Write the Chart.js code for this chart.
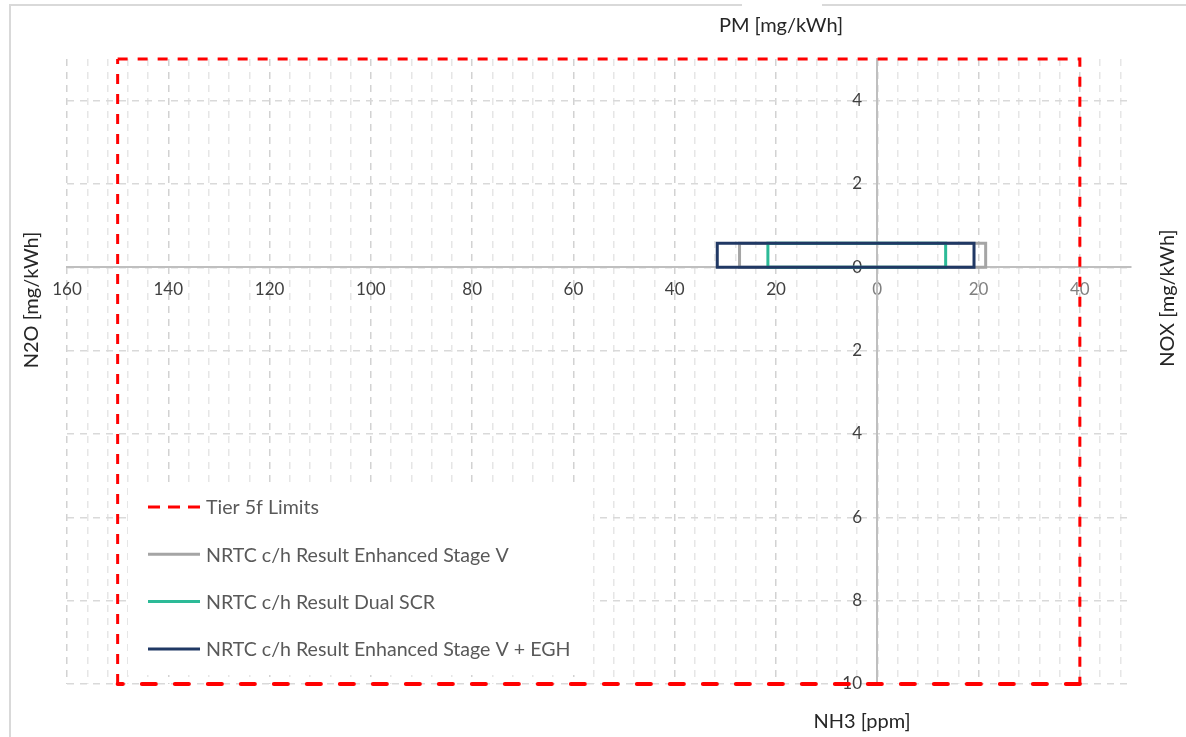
<!DOCTYPE html>
<html>
<head>
<meta charset="utf-8">
<title>Emissions vs Tier 5f limits</title>
<script src="https://cdn.jsdelivr.net/npm/chart.js@4/dist/chart.umd.min.js"></script>
<style>
  html, body { margin: 0; padding: 0; background: #fff; }
  #wrap { position: relative; width: 1186px; height: 737px; }
  canvas { display: block; }
</style>
</head>
<body>
<div id="wrap"><canvas id="c" width="1186" height="737"></canvas></div>
<script>
// Four-quadrant emissions chart:
//   left  = N2O [mg/kWh], right = NOX [mg/kWh]
//   up    = PM  [mg/kWh], down  = NH3 [ppm]
// Every series is a rectangle spanning its four values.
const seriesNames = [
  'Tier 5f Limits',
  'NRTC c/h Result Enhanced Stage V',
  'NRTC c/h Result Dual SCR',
  'NRTC c/h Result Enhanced Stage V + EGH'
];
const n2oValues = [150, 27.2, 21.6, 31.6];
const pmValues  = [5, 0.58, 0.58, 0.58];
const noxValues = [40, 21.4, 13.5, 19.1];
const nh3Values = [10, 0, 0, 0];

// axis ranges (N2O and NH3 run in the negative direction)
const xRange = [-160, 50];
const yRange = [-10, 5];
const xTickStep = 4;     // grid every 4, labels every 20
const xLabelEvery = 20;
const yTickStep = 2;

const seriesColors = ['#FF0000', '#A5A5A5', '#2CBA97', '#203864'];
const drawOrder = [0, 3, 2, 1];

function rectPoints(i) {
  return [
    { x: -n2oValues[i], y: pmValues[i] },
    { x: noxValues[i], y: pmValues[i] },
    { x: noxValues[i], y: -nh3Values[i] },
    { x: -n2oValues[i], y: -nh3Values[i] },
    { x: -n2oValues[i], y: pmValues[i] }
  ];
}

const datasets = seriesNames.map((name, i) => {
  const ds = {
    label: name,
    data: rectPoints(i),
    showLine: true,
    borderColor: seriesColors[i],
    backgroundColor: seriesColors[i],
    borderWidth: 3,
    pointRadius: 0,
    pointHoverRadius: 0,
    tension: 0,
    fill: false,
    clip: false,
    order: drawOrder[i],
    borderJoinStyle: 'miter',
    borderCapStyle: 'square'
  };
  if (i === 0) {
    ds.borderDash = [10, 10];
    ds.borderCapStyle = 'butt';
    // the bottom edge (NH3 limit) is drawn heavier with longer dashes
    ds.segment = {
      borderWidth: c => c.p0DataIndex === 2 ? 4 : undefined,
      borderDash: c => c.p0DataIndex === 2 ? [14, 19] : undefined,
      borderCapStyle: c => c.p0DataIndex === 2 ? 'round' : undefined
    };
  }
  return ds;
});

// light frame round the whole chart
const framePlugin = {
  id: 'frame',
  beforeDraw(chart) {
    const c = chart.ctx;
    c.save();
    c.fillStyle = '#fff';
    c.fillRect(0, 0, chart.width, chart.height);
    c.strokeStyle = '#D9D9D9';
    c.lineWidth = 2;
    c.beginPath();
    c.moveTo(10, chart.height + 4);
    c.lineTo(10, 5);
    c.lineTo(chart.width + 4, 5);
    c.stroke();
    c.fillStyle = '#fff';
    c.fillRect(742, 3, 80, 4);
    c.restore();
  }
};

// legend box in the lower-left of the plot
const legendPlugin = {
  id: 'boxLegend',
  afterDatasetsDraw(chart) {
    const c = chart.ctx;
    const left = 128, top = 487, width = 465, height = 188;
    const rowY0 = 507, rowGap = 47.3;
    c.save();
    c.fillStyle = '#fff';
    c.fillRect(left, top, width, height);
    chart.data.datasets.forEach((ds, i) => {
      const y = rowY0 + i * rowGap;
      c.beginPath();
      c.strokeStyle = ds.borderColor;
      c.lineWidth = 3;
      c.lineCap = 'butt';
      c.setLineDash(i === 0 ? [12, 8] : []);
      c.moveTo(148, y);
      c.lineTo(200, y);
      c.stroke();
      c.setLineDash([]);
      c.fillStyle = '#595959';
      c.font = '19.6px Lato';
      c.textAlign = 'left';
      c.textBaseline = 'middle';
      c.fillText(ds.label, 206, y + 1);
    });
    c.restore();
  }
};

// quadrant titles
const axisTitles = [
  { text: 'PM [mg/kWh]', x: 781, y: 26, rot: 0 },
  { text: 'NH3 [ppm]', x: 862, y: 722, rot: 0 },
  { text: 'N2O [mg/kWh]', x: 32, y: 300, rot: -Math.PI / 2 },
  { text: 'NOX [mg/kWh]', x: 1168, y: 298, rot: -Math.PI / 2 }
];
const titlePlugin = {
  id: 'quadTitles',
  afterDraw(chart) {
    const c = chart.ctx;
    c.save();
    c.fillStyle = '#262626';
    c.font = '20px Lato';
    c.textAlign = 'center';
    c.textBaseline = 'middle';
    axisTitles.forEach(t => {
      c.save();
      c.translate(t.x, t.y);
      c.rotate(t.rot);
      c.fillText(t.text, 0, 0);
      c.restore();
    });
    c.restore();
  }
};

Chart.defaults.font.family = 'Lato';

const gridDash = [7, 6];

new Chart(document.getElementById('c'), {
  type: 'scatter',
  data: { datasets },
  options: {
    responsive: false,
    devicePixelRatio: 1,
    animation: false,
    events: [],
    layout: { padding: { left: 67, top: 59, right: 55.5, bottom: 53 } },
    plugins: { legend: { display: false }, tooltip: { enabled: false } },
    scales: {
      x: {
        type: 'linear',
        position: { y: 0 },
        min: xRange[0],
        max: xRange[1],
        afterFit: s => { s.height = 0; s.paddingLeft = 0; s.paddingRight = 0; },
        grid: {
          drawTicks: false,
          lineWidth: 1.5,
          color: c => (c.tick && c.tick.value % xLabelEvery === 0) ? '#D2D2D2' : '#E6E6E6'
        },
        border: { display: true, color: '#BFBFBF', width: 2, dash: gridDash },
        ticks: {
          stepSize: xTickStep,
          autoSkip: false,
          maxRotation: 0,
          includeBounds: false,
          padding: 12,
          font: { size: 17 },
          color: c => (c.tick && c.tick.value >= 0) ? '#808080' : '#404040',
          callback: v => (v % xLabelEvery === 0) ? String(Math.abs(v)) : ''
        }
      },
      // value labels for PM / NH3, set just left of the vertical axis
      y: {
        type: 'linear',
        position: { x: -3 },
        min: yRange[0],
        max: yRange[1],
        afterFit: s => { s.width = 0; s.paddingTop = 0; s.paddingBottom = 0; },
        grid: { drawTicks: false, lineWidth: 1.5, color: '#D9D9D9' },
        border: { display: false, dash: gridDash },
        ticks: {
          stepSize: yTickStep,
          includeBounds: false,
          padding: 0,
          font: { size: 17 },
          color: '#404040',
          callback: v => String(Math.abs(v))
        }
      },
      // the vertical axis line itself, at zero
      yAxisLine: {
        type: 'linear',
        axis: 'y',
        position: { x: 0 },
        min: yRange[0],
        max: yRange[1],
        afterFit: s => { s.width = 0; s.paddingTop = 0; s.paddingBottom = 0; },
        grid: { drawTicks: false, color: 'rgba(0,0,0,0)' },
        border: { display: true, color: '#BFBFBF', width: 2 },
        ticks: { display: false, stepSize: yTickStep }
      }
    }
  },
  plugins: [framePlugin, legendPlugin, titlePlugin]
});
</script>
</body>
</html>
